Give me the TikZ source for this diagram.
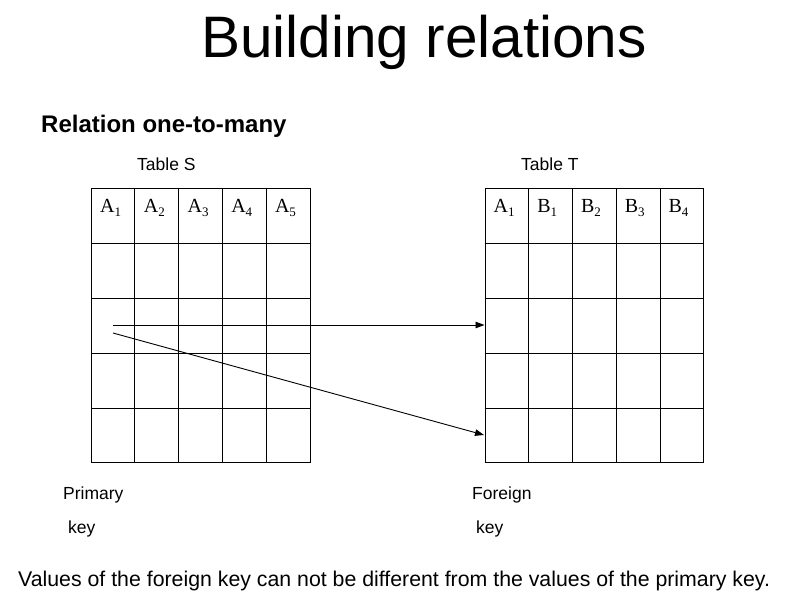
\documentclass[tikz,border=0pt]{standalone}
\usepackage{fontspec}
\setmainfont{Liberation Sans}
\newfontfamily\colfont{Liberation Serif}
\usetikzlibrary{arrows.meta,positioning,calc}
\newcommand{\attr}[2]{#1\raisebox{-0.5ex}{\fontsize{13}{13}\selectfont #2}}
\begin{document}
\begin{tikzpicture}[x=1pt, y=-1pt,
  tbl/.style={draw, line width=1pt, minimum width=218.5pt, minimum height=274pt, anchor=north west, inner sep=0pt},
  hdrtxt/.style={anchor=base west, font=\colfont\fontsize{20}{20}\selectfont, inner sep=0pt},
  lbl/.style={anchor=base west, font=\fontsize{17.5}{17.5}\selectfont, inner sep=0pt},
  link/.style={-{Triangle[length=9pt,width=6.5pt]}, line width=0.9pt},
]
\useasboundingbox[fill=white] (0,0) rectangle (801,611);
% title
\node[anchor=base, font=\fontsize{58.5}{58.5}\selectfont, inner sep=0pt] (title) at (424,57) {Building relations};
\node[anchor=base west, font=\bfseries\fontsize{24}{24}\selectfont, inner sep=0pt] (sub) at (41,132) {Relation one-to-many};
% ---- tables ----
\node[lbl] (nameS) at (137,170) {Table S};
\node[lbl] (nameT) at (521,170) {Table T};
\node[tbl] (S) at (91,188) {};
\node[tbl] (T) at (484.5,188) {};
\foreach \t in {S,T}{
  \foreach \i in {1,...,4}
    \draw[line width=1pt] ($(\t.north west)!\i/5!(\t.north east)$) -- ($(\t.south west)!\i/5!(\t.south east)$);
  \foreach \j in {1,...,4}
    \draw[line width=1pt] ($(\t.north west)!\j/5!(\t.south west)$) -- ($(\t.north east)!\j/5!(\t.south east)$);
}
% headers
\foreach \a/\n [count=\i from 0] in {A/1,A/2,A/3,A/4,A/5}
  \node[hdrtxt] (hS\i) at ($(S.north west)+(9+43.7*\i,24)$) {\attr{\a}{\n}};
\foreach \a/\n [count=\i from 0] in {A/1,B/1,B/2,B/3,B/4}
  \node[hdrtxt] (hT\i) at ($(T.north west)+(9+43.7*\i,24)$) {\attr{\a}{\n}};
% ---- links ----
\coordinate (pk1) at (113,325);
\coordinate (pk2) at (113,333);
\coordinate (fk2) at (484,435);
\draw[link] (pk1) -- (T.west |- pk1);
\draw[link] (pk2) -- (fk2);
% key labels
\node[lbl] (prim) at (63,499) {Primary};
\node[lbl] (primk) at (68,533) {key};
\node[lbl] (forn) at (472,499) {Foreign};
\node[lbl] (fornk) at (476,533) {key};
\node[anchor=base west, font=\fontsize{21.3}{21.3}\selectfont, inner sep=0pt] (note) at (18,586) {Values of the foreign key can not be different from the values of the primary key.};
\end{tikzpicture}
\end{document}
